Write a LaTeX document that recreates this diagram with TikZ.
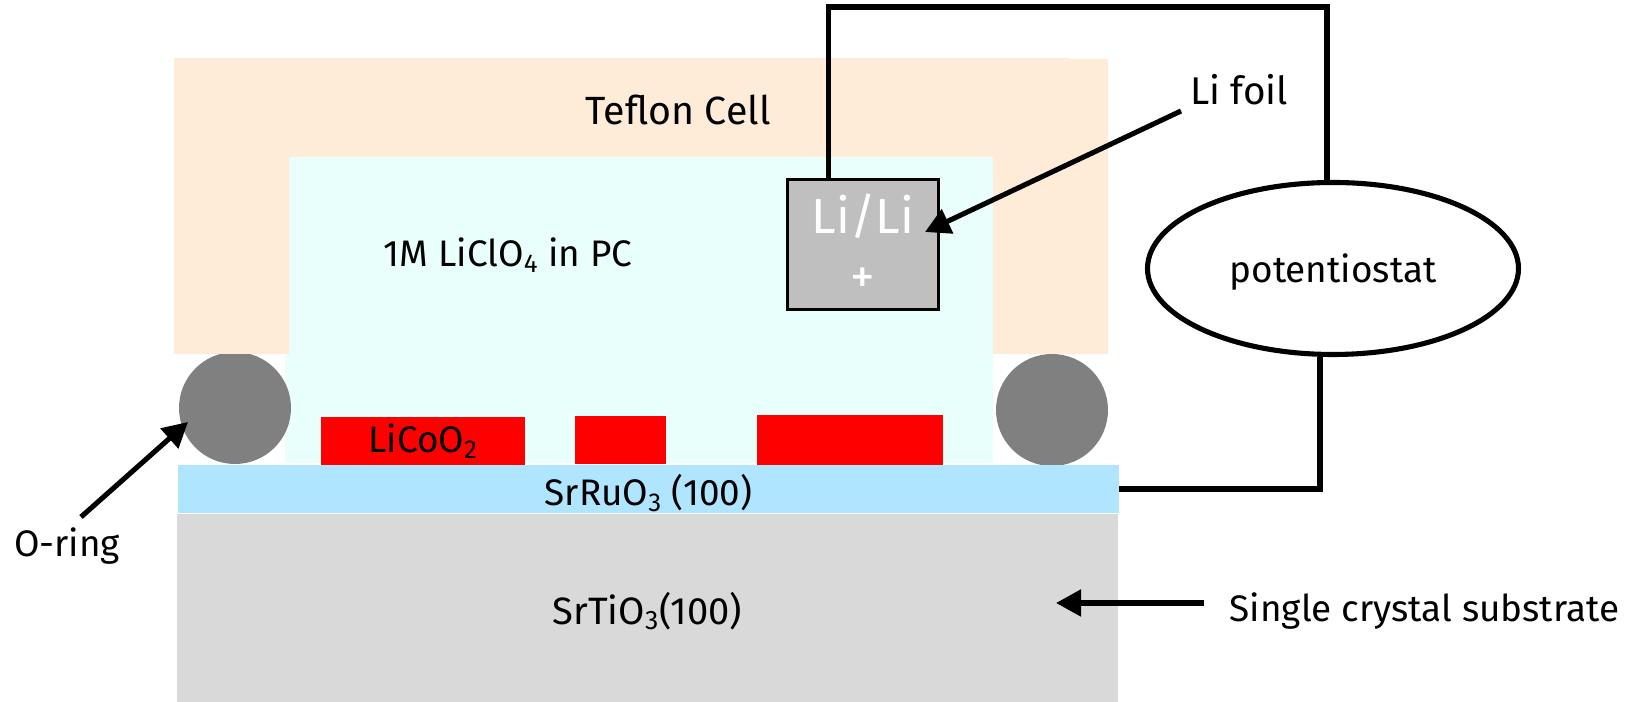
\documentclass[tikz,border=0pt]{standalone}
\usepackage{fontspec}
\setmainfont{Fira Sans}
\usetikzlibrary{arrows.meta,shapes.geometric}
\definecolor{teflon}{HTML}{FEEBD8}
\definecolor{electrolyte}{HTML}{E8FFFC}
\definecolor{srruo}{HTML}{AFE5FF}
\definecolor{srtio}{HTML}{D9D9D9}
\definecolor{ringgray}{HTML}{808080}
\definecolor{foilgray}{HTML}{BFBFBF}
\tikzset{
	layer/.style={inner sep=0pt,outer sep=0pt,font=\fontsize{21}{25}\selectfont},
	label/.style={inner sep=0pt,font=\fontsize{21}{25}\selectfont},
	wire/.style={line width=2.9pt,line join=miter},
	pointer/.style={line width=2.9pt,-{Triangle[length=0.5cm,width=0.52cm]}}
}
\begin{document}
\begin{tikzpicture}
			\useasboundingbox (0,0) rectangle (32.72,14.04);
			\fill[electrolyte] (5.78,10.90) -- (19.86,10.90) -- (19.86,4.78) -- (5.70,4.78) -- (5.70,6.96) -- (5.78,6.96) -- cycle;
			\fill[ringgray] (4.70,5.88) circle (1.12);
			\fill[ringgray] (21.04,5.84) circle (1.12);
			\fill[teflon] (3.48,12.88) -- (21.38,12.88) -- (21.38,12.86) -- (22.16,12.86) -- (22.16,6.96) -- (19.86,6.96) -- (19.86,10.90) -- (5.78,10.90) -- (5.78,6.96) -- (3.48,6.96) -- cycle;
			\node[label,font=\fontsize{22.4}{27}\selectfont] (teflonlabel) at (13.56,11.84) {Teflon Cell};
			\node[label] (electrolytelabel) at (10.16,8.94) {1M LiClO\textsubscript{4} in PC};
			\node[layer,fill=red,minimum width=4.08cm,minimum height=0.96cm] (cathodea) at (8.46,5.22) {LiCoO\textsubscript{2}};
			\node[layer,fill=red,minimum width=1.82cm,minimum height=0.96cm] (cathodeb) at (12.41,5.24) {};
			\node[layer,fill=red,minimum width=3.72cm,minimum height=1cm] (cathodec) at (17.00,5.24) {};
			\node[layer,fill=srruo,minimum width=18.82cm,minimum height=0.96cm] (electrode) at (12.97,4.26) {};
			\node[label] (electrodelabel) at (12.97,4.18) {SrRuO\textsubscript{3} (100)};
			\node[layer,fill=srtio,minimum width=18.82cm,minimum height=3.76cm] (substrate) at (12.95,1.88) {};
			\node[label,font=\fontsize{21.7}{26}\selectfont] (substratelabel) at (12.95,1.82) {SrTiO\textsubscript{3}(100)};
			\node[draw,fill=foilgray,line width=1.7pt,minimum width=3.02cm,minimum height=2.60cm,inner sep=0pt] (libox) at (17.26,9.15) {};
			\node[label,text=white,font=\fontsize{28}{33}\selectfont] (liboxtext) at (17.26,9.72) {Li/Li};
			\node[label,text=white,font=\fontsize{28}{33}\selectfont] (liboxplus) at (17.26,8.42) {+};
			\node[draw,ellipse,line width=2.9pt,minimum width=7.42cm,minimum height=3.44cm,inner sep=0pt] (potentiostat) at (26.66,8.67) {};
			\node[label] (potentiostatlabel) at (26.66,8.60) {potentiostat};
			\node[label,font=\fontsize{22}{26}\selectfont] (foillabel) at (24.78,12.24) {Li foil};
			\node[label] (ringlabel) at (1.34,3.12) {O-ring};
			\node[label] (crystallabel) at (28.49,1.82) {Single crystal substrate};
			\coordinate (wiretopleft) at (16.57,13.90);
			\coordinate (wiretopright) at (26.54,13.90);
			\coordinate (wirecorner) at (26.40,4.26);
			\coordinate (foiltail) at (23.62,11.82);
			\coordinate (foiltip) at (18.50,9.40);
			\coordinate (ringtail) at (1.62,3.70);
			\coordinate (ringtip) at (3.76,5.60);
			\coordinate (crystaltail) at (24.08,1.98);
			\coordinate (crystaltip) at (21.12,1.98);
			\draw[wire] (libox.north -| wiretopleft) -- (wiretopleft) -- (wiretopright) -- (potentiostat.north -| wiretopright);
			\draw[wire] (electrode.east) -- (wirecorner) -- (potentiostat.south -| wirecorner);
			\draw[pointer] (foiltail) -- (foiltip);
			\draw[pointer] (ringtail) -- (ringtip);
			\draw[pointer] (crystaltail) -- (crystaltip);
		\end{tikzpicture}
\end{document}
